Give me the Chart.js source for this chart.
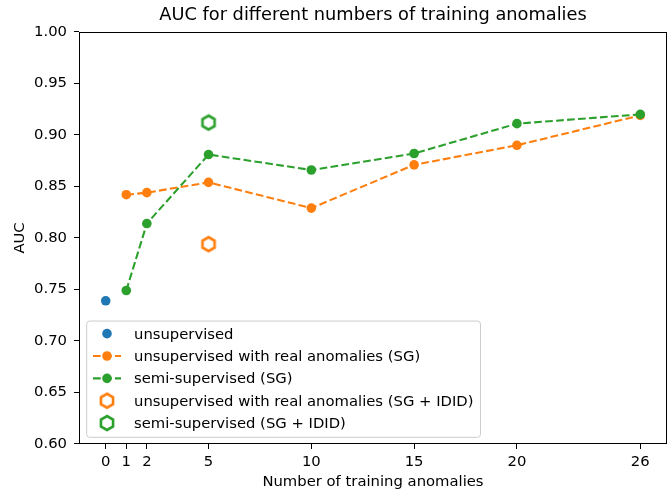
<!DOCTYPE html>
<html>
<head>
<meta charset="utf-8">
<script src="https://cdn.jsdelivr.net/npm/chart.js@4.4.1/dist/chart.umd.min.js"></script>
<style>
  body { margin: 0; background: #fff; }
  canvas { display: block; }
</style>
</head>
<body>
<canvas id="aucChart" width="672" height="491"></canvas>
<script>
// data
const xTicks = [0, 1, 2, 5, 10, 15, 20, 26];
const yTicks = [0.60, 0.65, 0.70, 0.75, 0.80, 0.85, 0.90, 0.95, 1.00];

const xUnsup = [0];
const aucUnsup = [0.739];

const xSG = [1, 2, 5, 10, 15, 20, 26];
const aucRealSG = [0.842, 0.844, 0.854, 0.829, 0.871, 0.890, 0.919];
const aucSemiSG = [0.749, 0.814, 0.881, 0.866, 0.882, 0.911, 0.920];

const xIDID = [5];
const aucRealIDID = [0.794];
const aucSemiIDID = [0.912];

const labels = [
    'unsupervised',
    'unsupervised with real anomalies (SG)',
    'semi-supervised (SG)',
    'unsupervised with real anomalies (SG + IDID)',
    'semi-supervised (SG + IDID)'
];

const BLUE = '#1f77b4', ORANGE = '#ff7f0e', GREEN = '#2ca02c';
const FONT = 'DejaVu Sans';
const FS = 14.8;

function pts(xs, ys) {
    return xs.map((x, i) => ({ x: x, y: ys[i] }));
}

// hexagon marker (pointy top), outline only
function hexagon(color) {
    const c = document.createElement('canvas');
    c.width = 20; c.height = 20;
    const g = c.getContext('2d');
    const r = 7;
    g.beginPath();
    for (let k = 0; k < 6; k++) {
        const a = -Math.PI / 2 + k * Math.PI / 3;
        const px = 10 + r * Math.cos(a), py = 10 + r * Math.sin(a);
        if (k === 0) g.moveTo(px, py); else g.lineTo(px, py);
    }
    g.closePath();
    g.fillStyle = '#fff';
    g.fill();
    g.lineWidth = 2.6;
    g.strokeStyle = color;
    g.stroke();
    return c;
}
const hexOrange = hexagon(ORANGE);
const hexGreen = hexagon(GREEN);

const dash = [7.7, 3.3];

// legend inside the axes, lower left (like matplotlib)
const legendBox = {
    id: 'legendBox',
    afterDraw(chart) {
        const ctx = chart.ctx;
        const area = chart.chartArea;
        ctx.save();
        ctx.font = FS + 'px "' + FONT + '"';
        let maxW = 0;
        labels.forEach(t => { maxW = Math.max(maxW, ctx.measureText(t).width); });
        const rowH = 22.35;
        const left = area.left + 7.7;
        const bottom = area.bottom - 6.7;
        const height = rowH * labels.length + 4.5;
        const top = bottom - height;
        const width = 47.3 + maxW + 7;

        ctx.beginPath();
        ctx.roundRect(left, top, width, height, 3);
        ctx.fillStyle = 'rgba(255,255,255,0.8)';
        ctx.fill();
        ctx.lineWidth = 1;
        ctx.strokeStyle = '#cccccc';
        ctx.stroke();

        const hx = left + 20.3;
        chart.data.datasets.forEach((ds, i) => {
            const y = top + 12.6 + i * rowH;
            if (ds.showLine) {
                ctx.beginPath();
                ctx.setLineDash(dash);
                ctx.lineWidth = 2.08;
                ctx.strokeStyle = ds.borderColor;
                ctx.moveTo(hx - 14, y);
                ctx.lineTo(hx + 14, y);
                ctx.stroke();
                ctx.setLineDash([]);
            }
            if (ds.pointStyle instanceof HTMLCanvasElement) {
                ctx.drawImage(ds.pointStyle, hx - 10, y - 10);
            } else {
                ctx.beginPath();
                ctx.arc(hx, y, ds.pointRadius, 0, Math.PI * 2);
                ctx.fillStyle = ds.pointBackgroundColor;
                ctx.fill();
            }
            ctx.fillStyle = '#000';
            ctx.textBaseline = 'middle';
            ctx.textAlign = 'left';
            ctx.fillText(labels[i], left + 47.3, y + 1);
        });
        ctx.restore();
    }
};

// full frame round the axes
const frame = {
    id: 'frame',
    afterDatasetsDraw(chart) {
        const a = chart.chartArea;
        const ctx = chart.ctx;
        ctx.save();
        ctx.strokeStyle = '#000';
        ctx.lineWidth = 1;
        ctx.strokeRect(Math.round(a.left) + 0.5, Math.round(a.top) + 0.5,
            Math.round(a.right - a.left) - 1, Math.round(a.bottom - a.top) - 1);
        ctx.restore();
    }
};

const ctx = document.getElementById('aucChart').getContext('2d');
const chart = new Chart(ctx, {
    type: 'scatter',
    data: {
        datasets: [
            {
                label: labels[0],
                data: pts(xUnsup, aucUnsup),
                pointRadius: 4.8,
                pointBackgroundColor: BLUE,
                pointBorderWidth: 0,
                borderColor: BLUE,
                order: 4
            },
            {
                label: labels[1],
                data: pts(xSG, aucRealSG),
                showLine: true,
                borderColor: ORANGE,
                borderWidth: 2.08,
                borderDash: dash,
                pointRadius: 4.8,
                pointBackgroundColor: ORANGE,
                pointBorderWidth: 0,
                order: 3
            },
            {
                label: labels[2],
                data: pts(xSG, aucSemiSG),
                showLine: true,
                borderColor: GREEN,
                borderWidth: 2.08,
                borderDash: dash,
                pointRadius: 4.8,
                pointBackgroundColor: GREEN,
                pointBorderWidth: 0,
                order: 2
            },
            {
                label: labels[3],
                data: pts(xIDID, aucRealIDID),
                pointStyle: hexOrange,
                borderColor: ORANGE,
                order: 1
            },
            {
                label: labels[4],
                data: pts(xIDID, aucSemiIDID),
                pointStyle: hexGreen,
                borderColor: GREEN,
                order: 0
            }
        ]
    },
    options: {
        responsive: false,
        animation: false,
        devicePixelRatio: 1,
        layout: { padding: { left: 0, right: 3, top: 2, bottom: 0 } },
        scales: {
            x: {
                type: 'linear',
                min: -1.3,
                max: 27.3,
                afterBuildTicks: s => { s.ticks = xTicks.map(v => ({ value: v })); },
                afterFit: s => { s.height = 47; },
                grid: { drawOnChartArea: false, drawTicks: true, tickLength: 5, color: '#000' },
                border: { display: false },
                ticks: {
                    color: '#000',
                    padding: 4,
                    maxRotation: 0,
                    font: { family: FONT, size: FS },
                    callback: v => String(v)
                },
                title: {
                    display: true,
                    text: 'Number of training anomalies',
                    color: '#000',
                    font: { family: FONT, size: FS },
                    padding: { top: 0, bottom: 0 }
                }
            },
            y: {
                min: 0.6,
                max: 1.0,
                afterBuildTicks: s => { s.ticks = yTicks.map(v => ({ value: v })); },
                afterFit: s => { s.width = 79; },
                grid: { drawOnChartArea: false, drawTicks: true, tickLength: 5, color: '#000' },
                border: { display: false },
                ticks: {
                    color: '#000',
                    padding: 7,
                    font: { family: FONT, size: FS },
                    callback: v => v.toFixed(2)
                },
                title: {
                    display: true,
                    text: 'AUC',
                    color: '#000',
                    font: { family: FONT, size: FS },
                    padding: { top: 11, bottom: 0 }
                }
            }
        },
        plugins: {
            legend: { display: false },
            tooltip: { enabled: false },
            title: {
                display: true,
                fullSize: false,
                text: 'AUC for different numbers of training anomalies',
                color: '#000',
                font: { family: FONT, size: 17.8, weight: 'normal' },
                padding: { top: 3, bottom: 5.6 }
            }
        }
    },
    plugins: [frame, legendBox]
});
</script>
</body>
</html>
